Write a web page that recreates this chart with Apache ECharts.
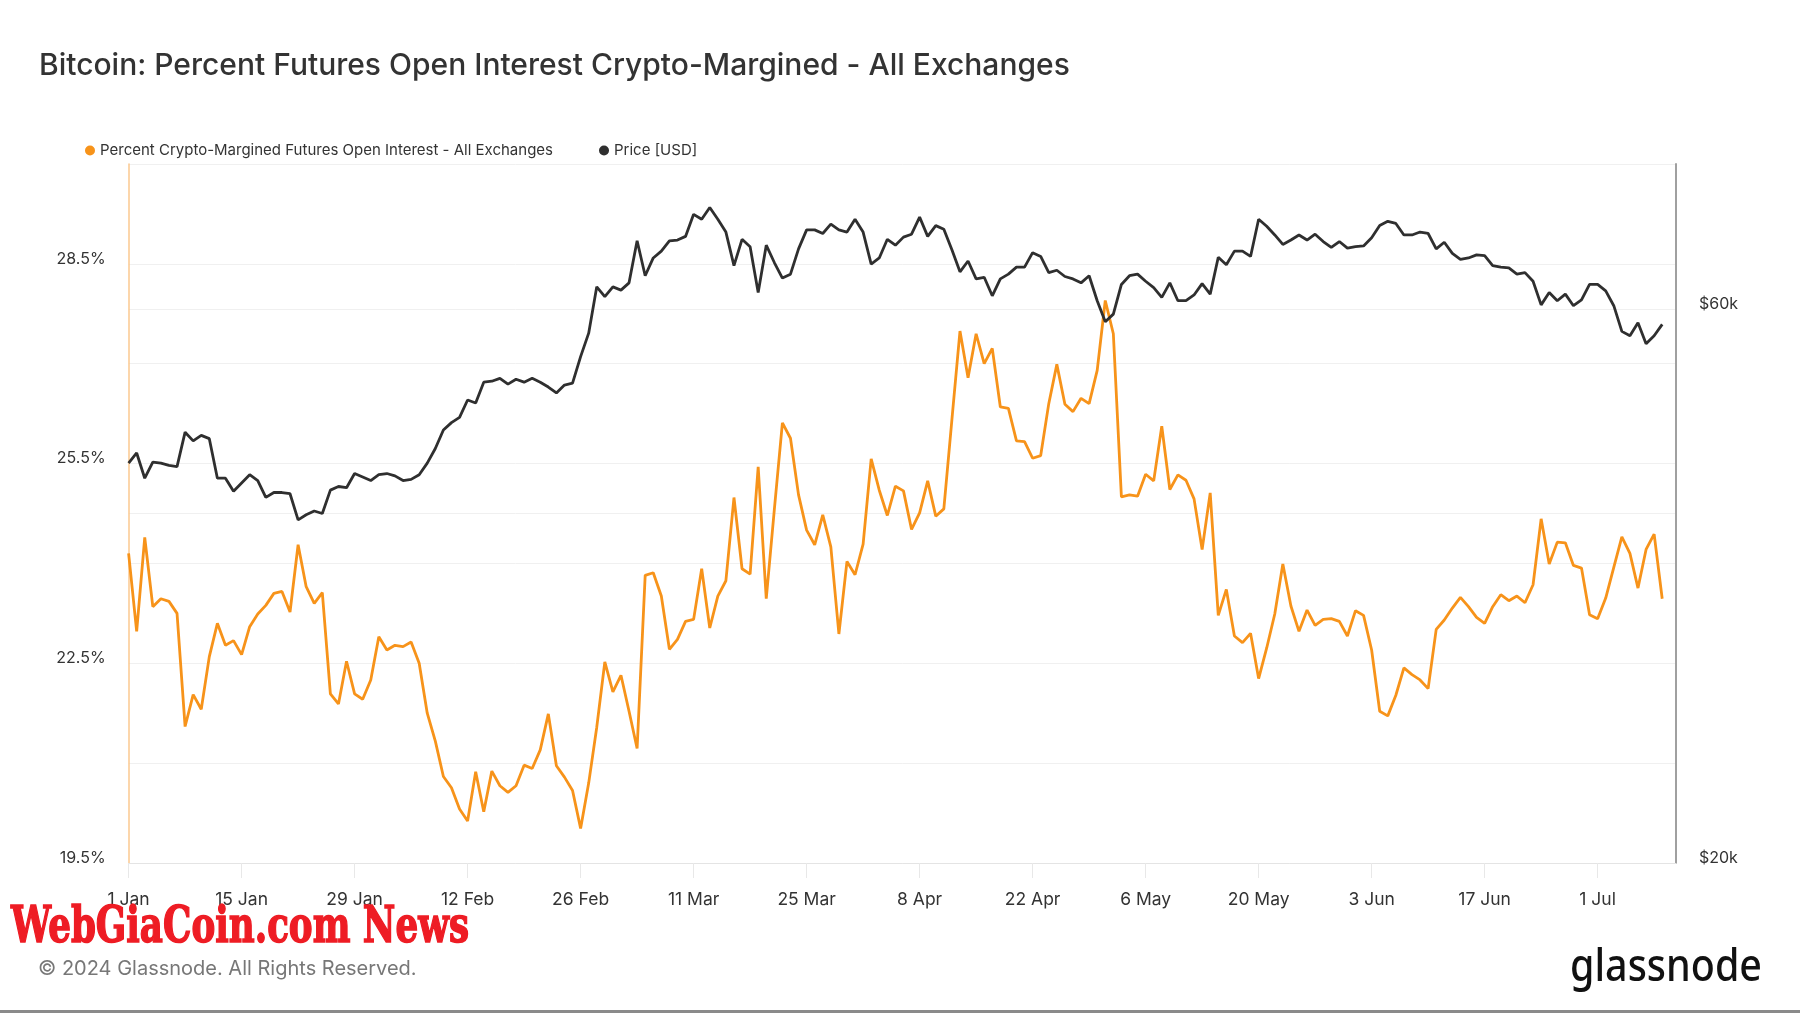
<!DOCTYPE html>
<html>
<head>
<meta charset="utf-8">
<script src="https://cdn.jsdelivr.net/npm/echarts@6/dist/echarts.min.js"></script>
<style>
html,body{margin:0;padding:0;background:#fff;}
#chart{width:1800px;height:1013px;}
</style>
</head>
<body>
<div id="chart"></div>
<script>
// ---------- DATA ----------
const titleText = 'Bitcoin: Percent Futures Open Interest Crypto-Margined - All Exchanges';
const seriesNames = ['Percent Crypto-Margined Futures Open Interest - All Exchanges', 'Price [USD]'];
const startDate = '2024-01-01';           // first daily point
const axisEndDate = '2024-07-10T17:00:00Z'; // right edge of the date axis

const tickDates = ['2024-01-01','2024-01-15','2024-01-29','2024-02-12','2024-02-26','2024-03-11','2024-03-25',
  '2024-04-08','2024-04-22','2024-05-06','2024-05-20','2024-06-03','2024-06-17','2024-07-01'];
const tickLabels = ['1 Jan','15 Jan','29 Jan','12 Feb','26 Feb','11 Mar','25 Mar',
  '8 Apr','22 Apr','6 May','20 May','3 Jun','17 Jun','1 Jul'];

const percentTickValues = [19.5, 22.5, 25.5, 28.5];
const percentTickLabels = ['19.5%', '22.5%', '25.5%', '28.5%'];
const priceTickValues = [20000, 60000];
const priceTickLabels = ['$20k', '$60k'];
const priceGridValues = [40000, 60000];

// daily values, 1 Jan 2024 .. 9 Jul 2024
const percentCryptoMargined = [
  24.15,22.98,24.39,23.35,23.47,23.43,23.25,21.55,22.03,21.81,
  22.60,23.10,22.77,22.84,22.63,23.05,23.24,23.37,23.55,23.58,
  23.27,24.28,23.65,23.40,23.56,22.04,21.89,22.53,22.04,21.96,
  22.25,22.90,22.70,22.77,22.75,22.82,22.50,21.75,21.33,20.80,
  20.63,20.31,20.13,20.87,20.27,20.88,20.66,20.56,20.66,20.97,
  20.92,21.20,21.74,20.96,20.79,20.59,20.02,20.70,21.54,22.52,
  22.07,22.32,21.78,21.22,23.82,23.86,23.51,22.71,22.86,23.13,
  23.16,23.92,23.03,23.51,23.74,24.99,23.92,23.84,25.45,23.47,
  24.81,26.11,25.88,25.03,24.50,24.28,24.73,24.25,22.94,24.03,
  23.83,24.29,25.57,25.10,24.72,25.16,25.09,24.51,24.76,25.24,
  24.71,24.82,26.16,27.49,26.79,27.45,27.00,27.23,26.35,26.33,
  25.84,25.83,25.58,25.62,26.40,26.99,26.39,26.28,26.48,26.40,
  26.90,27.95,27.45,25.00,25.03,25.01,25.34,25.24,26.06,25.11,
  25.33,25.25,24.97,24.21,25.06,23.22,23.61,22.91,22.81,22.95,
  22.27,22.73,23.24,23.99,23.36,22.98,23.30,23.07,23.16,23.17,
  23.13,22.91,23.29,23.22,22.70,21.78,21.71,22.02,22.43,22.33,
  22.25,22.12,23.01,23.15,23.33,23.49,23.35,23.19,23.10,23.35,
  23.53,23.44,23.51,23.41,23.68,24.67,23.99,24.32,24.31,23.97,
  23.93,23.23,23.17,23.48,23.94,24.40,24.15,23.63,24.21,24.44,
  23.47
];

const priceUSD = [
  44200,45100,42900,44300,44200,44000,43900,47000,46200,46700,
  46400,42900,42900,41800,42500,43200,42700,41300,41700,41700,
  41600,39500,39900,40200,40000,41900,42200,42100,43300,43000,
  42700,43200,43300,43100,42700,42800,43200,44200,45500,47200,
  47900,48400,50100,49800,51900,52000,52300,51700,52200,51900,
  52300,51900,51400,50800,51600,51800,54600,57200,62700,61500,
  62700,62300,63200,68700,64100,66400,67300,68700,68800,69300,
  72400,71700,73400,71700,69900,65400,68900,67900,62000,68100,
  65800,63800,64300,67600,70200,70200,69700,71000,70200,69900,
  71700,69900,65600,66400,68900,68100,69200,69600,72000,69300,
  70800,70300,67500,64600,66000,63700,63900,61600,63700,64300,
  65200,65200,67100,66600,64500,64800,64000,63700,63200,64100,
  61000,58500,59400,63000,64100,64300,63400,62600,61400,63200,
  61000,61000,61700,63100,61800,66500,65500,67300,67300,66600,
  71700,70700,69500,68200,68800,69500,68800,69600,68600,67800,
  68600,67700,67900,68000,69100,70800,71400,71100,69500,69500,
  69900,69700,67600,68500,67000,66200,66400,66800,66700,65400,
  65200,65100,64300,64500,63400,60500,62000,61000,61800,60400,
  61100,63000,63000,62200,60400,57400,56900,58400,56000,56900,
  58200
];

// ---------- BUILD ----------
// x is measured in days since startDate (a linear date scale)
const DAY = 86400000;
const t0 = Date.parse(startDate + 'T00:00:00Z');
const dayOf = s => (Date.parse(s.length > 10 ? s : s + 'T00:00:00Z') - t0) / DAY;
const xMax = dayOf(axisEndDate);
const tickDays = tickDates.map(dayOf);
const percentData = percentCryptoMargined.map((v, i) => [i, v]);
const priceData = priceUSD.map((v, i) => [i, v]);

const FONT = 'Inter, "Noto Sans", sans-serif';

function labelFor(values, labels, v) {
  for (let i = 0; i < values.length; i++) {
    if (Math.abs(values[i] - v) < 1e-6 * Math.max(1, Math.abs(v))) return labels[i];
  }
  return '';
}

// measure watermark and logo to fit their widths
const cv = document.createElement('canvas').getContext('2d');
const wmFont = 'bold 50px "DejaVu Serif"';
cv.font = wmFont;
const wmText = 'WebGiaCoin.com News';
const wmScale = 458 / cv.measureText(wmText).width;
const logoFont = '500 46px "Noto Sans"';
cv.font = logoFont;
const logoScale = 192 / cv.measureText('glassnode').width;

const chart = echarts.init(document.getElementById('chart'), null, {renderer: 'canvas'});
chart.setOption({
  animation: false,
  backgroundColor: '#ffffff',
  textStyle: {fontFamily: FONT},
  title: {
    text: titleText,
    left: 34, top: 46,
    textStyle: {fontFamily: FONT, fontSize: 30, fontWeight: 500, color: '#333'}
  },
  legend: {
    left: 80, top: 138,
    icon: 'circle', itemWidth: 10, itemHeight: 10, itemGap: 46,
    textStyle: {fontFamily: FONT, fontSize: 15, color: '#333'},
    data: seriesNames
  },
  grid: {left: 128.6, right: 124, top: 164, bottom: 150},
  xAxis: {
    type: 'value',
    min: 0, max: xMax, interval: 14,
    axisLine: {show: true, lineStyle: {color: '#e4e4e4', width: 1}},
    axisTick: {show: true, customValues: tickDays, length: 15, lineStyle: {color: '#e8e8e8'}},
    axisLabel: {
      customValues: tickDays, margin: 28, fontSize: 17.5, color: '#333', fontFamily: FONT,
      formatter: v => labelFor(tickDays, tickLabels, v)
    },
    splitLine: {show: false}
  },
  yAxis: [
    {
      type: 'value', position: 'left',
      min: 19.5, max: 30, interval: 1.5,
      axisLine: {show: true, lineStyle: {color: '#fbc88f', width: 1.5}},
      axisTick: {show: false},
      axisLabel: {
        margin: 23, fontSize: 16, lineHeight: 10, color: '#333', fontFamily: FONT, verticalAlign: 'bottom',
        formatter: v => labelFor(percentTickValues, percentTickLabels, v)
      },
      splitLine: {show: true, lineStyle: {color: '#f0f0f0', width: 1}}
    },
    {
      type: 'log', position: 'right', logBase: 10,
      min: 20000, max: 80000,
      axisLine: {show: true, lineStyle: {color: '#a0a0a0', width: 2}},
      axisTick: {show: false, customValues: priceGridValues},
      axisLabel: {
        customValues: priceTickValues, margin: 23, fontSize: 16, lineHeight: 10, color: '#333', fontFamily: FONT,
        verticalAlign: 'bottom',
        formatter: v => labelFor(priceTickValues, priceTickLabels, v)
      },
      splitLine: {show: true, lineStyle: {color: '#f0f0f0', width: 1}}
    }
  ],
  series: [
    {
      name: seriesNames[0], type: 'line', yAxisIndex: 0,
      data: percentData, showSymbol: false, symbol: 'circle',
      lineStyle: {color: '#f7931a', width: 2.8}, itemStyle: {color: '#f7931a'}
    },
    {
      name: seriesNames[1], type: 'line', yAxisIndex: 1,
      data: priceData, showSymbol: false, symbol: 'circle',
      lineStyle: {color: '#2f2f2f', width: 2.8}, itemStyle: {color: '#2f2f2f'}
    }
  ],
  graphic: [
    {
      type: 'text', x: 11, y: 904, scaleX: wmScale, scaleY: 1, z: 100,
      style: {text: wmText, font: wmFont, fill: '#ee1c24', stroke: '#ee1c24', lineWidth: 1.6,
        textVerticalAlign: 'top'}
    },
    {
      type: 'text', x: 38, y: 969, z: 100,
      style: {text: '\u00a9 2024 Glassnode. All Rights Reserved.', font: '20px Inter', fill: '#777',
        textVerticalAlign: 'middle'}
    },
    {
      type: 'text', x: 1570, y: 968, scaleX: logoScale, z: 100,
      style: {text: 'glassnode', font: logoFont, fill: '#111', textVerticalAlign: 'middle'}
    },
    {
      type: 'rect', z: 100,
      shape: {x: 0, y: 1010, width: 1800, height: 3},
      style: {fill: '#8a8a8a'}
    }
  ]
});
</script>
</body>
</html>
